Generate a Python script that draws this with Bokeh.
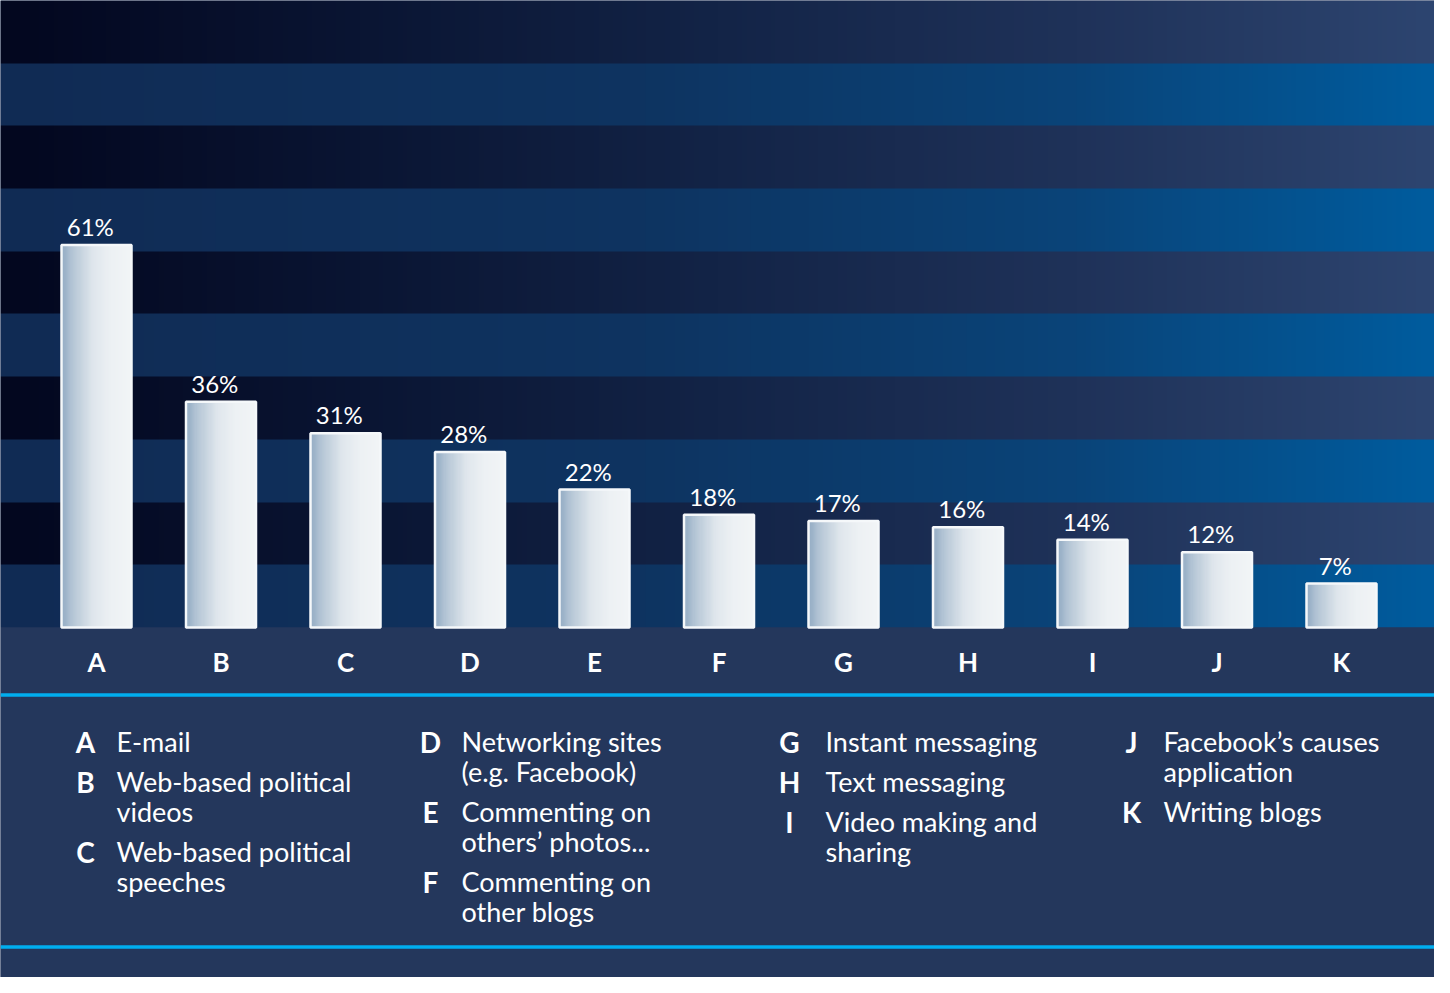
import numpy as np
from bokeh.plotting import figure
from bokeh.models import Range1d
from bokeh.core.properties import value
from bokeh.embed import file_html
from bokeh.resources import INLINE

# ---------------- data ----------------
categories = ["A", "B", "C", "D", "E", "F", "G", "H", "I", "J", "K"]
values = [61, 36, 31, 28, 22, 18, 17, 16, 14, 12, 7]
value_labels = ["61%", "36%", "31%", "28%", "22%", "18%", "17%", "16%", "14%", "12%", "7%"]
descriptions = [
    "E-mail",
    "Web-based political\nvideos",
    "Web-based political\nspeeches",
    "Networking sites\n(e.g. Facebook)",
    "Commenting on\nothers\u2019 photos...",
    "Commenting on\nother blogs",
    "Instant messaging",
    "Text messaging",
    "Video making and\nsharing",
    "Facebook\u2019s causes\napplication",
    "Writing blogs",
]
legend_columns = [["A", "B", "C"], ["D", "E", "F"], ["G", "H", "I"], ["J", "K"]]

# ---------------- geometry (style) ----------------
W, H = 1434, 977
PX_PER_CAT = 124.5
FIRST_CENTER = 96.0
BASE_PX = 627.0               # baseline from top of figure
PX_PER_PCT = BASE_PX / 100.0
Y0 = -(H - BASE_PX) / PX_PER_PCT
X0 = -FIRST_CENTER / PX_PER_CAT
X1 = (W - FIRST_CENTER) / PX_PER_CAT


def xd(px):
    return (px - FIRST_CENTER) / PX_PER_CAT


def yd(py):
    # py measured from the top of the figure
    return (BASE_PX - py) / PX_PER_PCT


FONT = "Lato"

p = figure(width=W, height=H, x_range=Range1d(X0, X1), y_range=Range1d(Y0, 100),
           output_backend="svg", toolbar_location=None, min_border=0,
           background_fill_color="#24375c", border_fill_color="white", outline_line_color=None)
p.axis.visible = False
p.grid.visible = False


def hexrgb(h):
    h = h.lstrip("#")
    return [int(h[i:i + 2], 16) for i in (0, 2, 4)]


def gradient(stops, n):
    pos = [s[0] for s in stops]
    cols = np.array([hexrgb(s[1]) for s in stops], dtype=float)
    t = np.linspace(0, 1, n)
    out = np.zeros((n, 3))
    for c in range(3):
        out[:, c] = np.interp(t, pos, cols[:, c])
    return out


def to_rgba(rows):
    nr, nc, _ = rows.shape
    img = np.empty((nr, nc), dtype=np.uint32)
    view = img.view(dtype=np.uint8).reshape((nr, nc, 4))
    view[:, :, 0] = rows[:, :, 0].astype(np.uint8)
    view[:, :, 1] = rows[:, :, 1].astype(np.uint8)
    view[:, :, 2] = rows[:, :, 2].astype(np.uint8)
    view[:, :, 3] = 255
    return img


# background bands (10% each)
ncol = 300
dark = gradient([(0, "#03071f"), (0.25, "#0a1533"), (0.5, "#132447"), (0.75, "#1f3259"), (1, "#2d4570")], ncol)
blue = gradient([(0, "#112b54"), (0.45, "#0e3461"), (0.75, "#0a4479"), (1, "#005c9e")], ncol)
band_rows = np.stack([blue if i % 2 == 0 else dark for i in range(10)])
p.image_rgba(image=[to_rgba(band_rows)], x=X0, y=0, dw=X1 - X0, dh=100)

# bottom panel
p.quad(left=X0, right=X1, bottom=Y0, top=0, fill_color="#24375c", line_color=None)

# cyan rules
for py in (694.5, 946.5):
    p.segment(x0=X0, y0=yd(py), x1=xd(1436), y1=yd(py), line_color="#00aeef", line_width=3.5)

# bars with gradient
bar_w = 70 / PX_PER_CAT
bar_grad = gradient([(0, "#94adc5"), (0.15, "#b5c6d6"), (0.45, "#e0e7ed"), (0.7, "#edf1f4"), (1, "#f2f5f7")], 60)
bar_img = to_rgba(bar_grad[np.newaxis, :, :])
xs = list(range(len(categories)))
p.image_rgba(image=[bar_img] * len(values), x=[i - bar_w / 2 for i in xs], y=[0] * len(values),
             dw=[bar_w] * len(values), dh=values)
p.vbar(x=xs, top=values, bottom=0, width=bar_w, fill_alpha=0, line_color="#f5f8fa", line_width=2.5)

# value labels
p.text(x=[i - 0.05 for i in xs], y=values, text=value_labels, text_align="center", text_baseline="bottom",
       y_offset=-4, text_color="white", text_font=value(FONT), text_font_size="24px")

# category letters
p.text(x=xs, y=[yd(661)] * len(xs), text=categories, text_align="center", text_baseline="middle",
       text_color="white", text_font=value(FONT), text_font_style="bold", text_font_size="26px")

# legend
col_letter_px = [85, 430, 789, 1131]
col_text_px = [116, 461, 825, 1163]
LINE = 30
GAP = 40
lx, ly, lt = [], [], []
tx, ty, tt = [], [], []
for ci, col in enumerate(legend_columns):
    py = 741
    for cat in col:
        lines = descriptions[categories.index(cat)].split("\n")
        lx.append(xd(col_letter_px[ci]))
        ly.append(yd(py))
        lt.append(cat)
        for k, line in enumerate(lines):
            tx.append(xd(col_text_px[ci]))
            ty.append(yd(py + k * LINE))
            tt.append(line)
        py += (len(lines) - 1) * LINE + GAP

p.text(x=lx, y=ly, text=lt, text_align="center", text_baseline="middle", text_color="white",
       text_font=value(FONT), text_font_style="bold", text_font_size="28px")
p.text(x=tx, y=ty, text=tt, text_align="left", text_baseline="middle", text_color="white",
       text_font=value(FONT), text_font_size="27px")

open("out.html", "w").write(file_html(p, INLINE))
